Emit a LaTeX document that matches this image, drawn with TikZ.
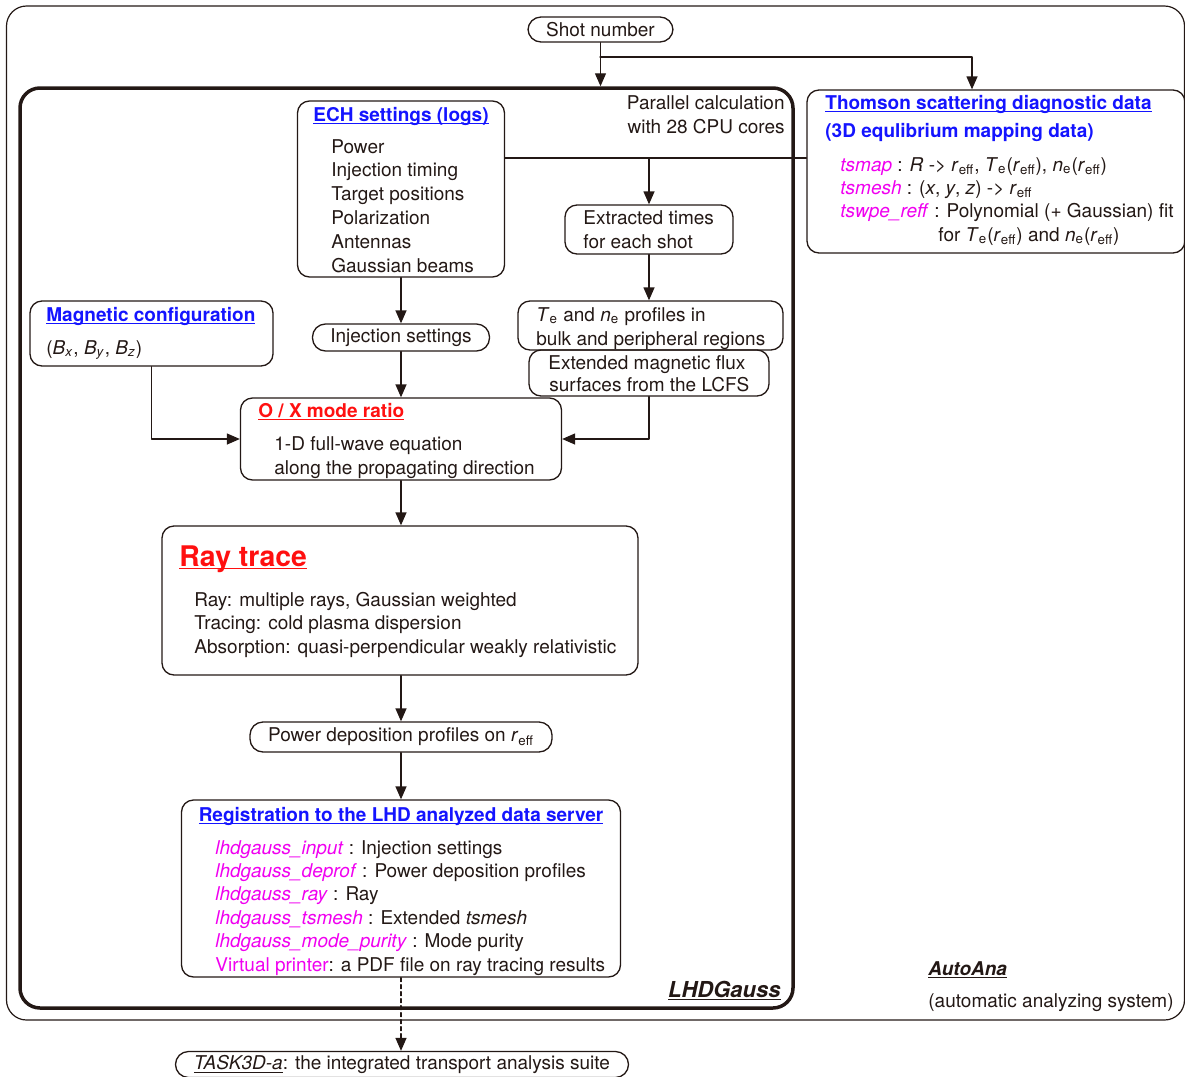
\documentclass[tikz,border=0pt]{standalone}
\usepackage{fontspec}
\setmainfont{TeX Gyre Heros}
\usetikzlibrary{arrows.meta}
\definecolor{ink}{HTML}{231815}
\definecolor{ttlblue}{HTML}{1414FF}
\definecolor{ttlred}{HTML}{FF1010}
\definecolor{mgcol}{HTML}{F000F0}

\newcommand{\mgt}[1]{\textcolor{mgcol}{\textit{#1}}}
\newcommand{\rsub}{\textit{r}\textsubscript{eff}}
\newcommand{\Tsub}{\textit{T}\textsubscript{e}}
\newcommand{\nsub}{\textit{n}\textsubscript{e}}
\newcommand{\undl}[1]{\setbox0\hbox{#1}\rlap{\rule[-1.6pt]{\wd0}{0.55pt}}\box0}

\tikzset{
  box/.style={draw=ink,line width=0.65pt,rounded corners=6pt,inner sep=0pt},
  pill/.style={box,rounded corners=6.5pt,text=ink,font=\fontsize{9.5}{12}\selectfont},
  txt/.style={inner sep=0pt,anchor=base west,text=ink,font=\fontsize{9.5}{12}\selectfont},
  ttl/.style={txt,font=\fontsize{9.5}{12}\selectfont\bfseries},
  arr/.style={draw=ink,line width=0.65pt,-{Triangle[length=6.5pt,width=5.5pt]}},
  ln/.style={draw=ink,line width=0.65pt}
}

\begin{document}
\begin{tikzpicture}[x=0.5pt,y=-0.5pt,line cap=round,line join=round]
  \useasboundingbox (0,0) rectangle (1185,1077);

  % frames
  \node[box,line width=0.6pt,rounded corners=10pt,minimum width=589pt,minimum height=507pt] (auto) at (595.5,513) {};
  \node[box,line width=1.75pt,rounded corners=10pt,minimum width=386.5pt,minimum height=460pt] (lhd) at (406.5,548) {};

  % boxes
  \node[pill,minimum width=72.5pt,minimum height=12.5pt] (shot) at (600.5,29.5) {Shot number};
  \node[box,minimum width=189pt,minimum height=81.5pt] (thom) at (996,171.5) {};
  \node[box,minimum width=103.5pt,minimum height=88pt] (ech) at (401,189) {};
  \node[box,minimum width=84pt,minimum height=24.5pt] (ext) at (649,229.5) {};
  \node[box,minimum width=132.5pt,minimum height=24.5pt] (prof) at (650.5,325.5) {};
  \node[box,minimum width=120pt,minimum height=23pt] (flux) at (649,373) {};
  \node[pill,minimum width=88.5pt,minimum height=13.5pt] (inj) at (401,337.5) {Injection settings};
  \node[box,minimum width=121.5pt,minimum height=32.5pt] (mag) at (151.5,333.5) {};
  \node[box,minimum width=160.5pt,minimum height=41pt] (ox) at (401,439) {};
  \node[box,minimum width=238pt,minimum height=74.5pt] (ray) at (400,600.5) {};
  \node[pill,minimum width=151pt,minimum height=15pt] (dep) at (401,737) {Power deposition profiles on \rsub};
  \node[box,minimum width=219.5pt,minimum height=88.5pt] (reg) at (401,888.5) {};
  \node[pill,minimum width=226.5pt,minimum height=13pt] (task) at (402,1064.5)
    {\undl{\textit{TASK3D-a}}: the integrated transport analysis suite};

  % connectors
  \coordinate (br) at (600,57);
  \draw[arr] (shot.south) -- (shot.south |- lhd.north);
  \draw[arr] (br) -| (thom.north -| 972,0);
  \draw[ln] (ech.east |- 0,158) -- (thom.west |- 0,158);
  \draw[arr] (ext.north |- 0,158) -- (ext.north);
  \draw[arr] (ext.south) -- (ext.south |- prof.north);
  \draw[arr] (flux.south) |- (ox.east);
  \draw[arr] (mag.south) |- (ox.west);
  \draw[arr] (ech.south) -- (inj.north);
  \draw[arr] (inj.south) -- (ox.north);
  \draw[arr] (ox.south) -- (ox.south |- ray.north);
  \draw[arr] (dep.north |- ray.south) -- (dep.north);
  \draw[arr] (dep.south) -- (reg.north);
  \draw[arr,dash pattern=on 2pt off 1.5pt] (reg.south) -- (reg.south |- task.north);

  % texts
  \node[txt,anchor=base east] (par1) at (785,109) {Parallel calculation};
  \node[txt,anchor=base east] (par2) at (785,133) {with 28 CPU cores};

  \node[ttl,anchor=base,text=ttlblue] (echt) at (401,121) {\undl{ECH settings (logs)}};
  \foreach \t [count=\i] in {Power,Injection timing,Target positions,Polarization,Antennas,Gaussian beams}
    \node[txt] (echl\i) at (331,{153+23.8*(\i-1)}) {\t};

  \node[ttl,text=ttlblue] (thomt) at (825,109) {\undl{Thomson scattering diagnostic data}};
  \node[ttl,text=ttlblue] (thoms) at (825,137) {(3D equlibrium mapping data)};
  \node[txt] (thom1) at (840,171) {\mgt{tsmap} : \textit{R} -> \rsub, \Tsub(\rsub), \nsub(\rsub)};
  \node[txt] (thom2) at (840,194) {\mgt{tsmesh} : (\textit{x}, \textit{y}, \textit{z}) -> \rsub};
  \node[txt] (thom3) at (840,217) {\mgt{tswpe\_reff} : Polynomial (+ Gaussian) fit};
  \node[txt] (thom4) at (938,241) {for \Tsub(\rsub) and \nsub(\rsub)};

  \node[txt] (ext1) at (583,224) {Extracted times};
  \node[txt] (ext2) at (583,248) {for each shot};
  \node[txt] (prof1) at (536,321) {\Tsub\ and \nsub\ profiles in};
  \node[txt] (prof2) at (536,345) {bulk and peripheral regions};
  \node[txt] (flux1) at (548,369) {Extended magnetic flux};
  \node[txt] (flux2) at (549,391) {surfaces from the LCFS};

  \node[ttl,text=ttlblue] (magt) at (46,321) {\undl{Magnetic configuration}};
  \node[txt] (mag1) at (46,354) {(\textit{B}\textsubscript{\textit{x}}, \textit{B}\textsubscript{\textit{y}}, \textit{B}\textsubscript{\textit{z}})};

  \node[ttl,text=ttlred] (oxt) at (258,417) {\undl{O / X mode ratio}};
  \node[txt] (ox1) at (274,450) {1-D full-wave equation};
  \node[txt] (ox2) at (274,474) {along the propagating direction};

  \node[ttl,text=ttlred,font=\fontsize{14.2}{16}\selectfont\bfseries] (rayt) at (179,566) {\undl{Ray trace}};
  \node[txt] (ray1) at (194,606) {Ray: multiple rays, Gaussian weighted};
  \node[txt] (ray2) at (194,629) {Tracing: cold plasma dispersion};
  \node[txt] (ray3) at (194,653) {Absorption: quasi-perpendicular weakly relativistic};

  \node[ttl,anchor=base,text=ttlblue] (regt) at (401,821) {\undl{Registration to the LHD analyzed data server}};
  \foreach \t [count=\i] in {{\mgt{lhdgauss\_input} : Injection settings},
      {\mgt{lhdgauss\_deprof} : Power deposition profiles},
      {\mgt{lhdgauss\_ray} : Ray},
      {\mgt{lhdgauss\_tsmesh} : Extended \textit{tsmesh}},
      {\mgt{lhdgauss\_mode\_purity} : Mode purity},
      {\textcolor{mgcol}{Virtual printer}: a PDF file on ray tracing results}}
    \node[txt] (regl\i) at (215,{854+23.4*(\i-1)}) {\t};

  \node[ttl,anchor=base east,font=\fontsize{11}{13}\selectfont\bfseries\itshape] (lhdt) at (781,997) {\undl{LHDGauss}};
  \node[ttl,font=\fontsize{9.5}{12}\selectfont\bfseries\itshape] (autot) at (928,975) {\undl{AutoAna}};
  \node[txt] (auto1) at (928,1007) {(automatic analyzing system)};

\end{tikzpicture}
\end{document}
